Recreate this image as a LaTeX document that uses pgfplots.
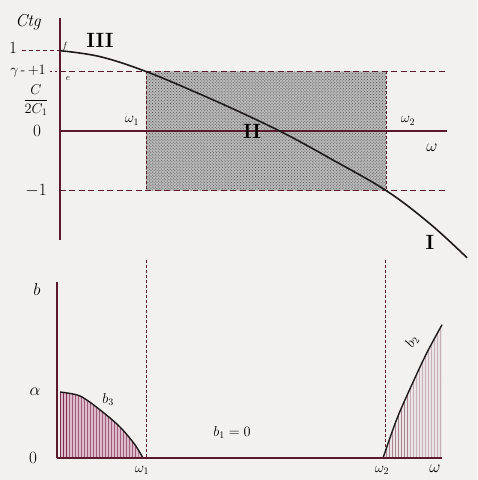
\documentclass[border=0pt]{standalone}
\usepackage{amsmath}
\usepackage{pgfplots}
\pgfplotsset{compat=1.18}
\usetikzlibrary{patterns}

\definecolor{paper}{HTML}{F2F1EF}
\definecolor{ink}{HTML}{5A1A2C}
\definecolor{curve}{HTML}{1E1A1C}
\definecolor{rose}{HTML}{9A3A66}

\begin{document}
\begin{tikzpicture}
% ---------- upper diagram: ctg gamma as a function of omega ----------
\begin{axis}[
  at={(0,0)}, anchor=south west,
  x=100bp, y=59.5bp,
  xmin=-0.6, xmax=4.17, ymin=-2.168, ymax=2.2017,
  hide axis, clip=false,
]
\addplot[fill=paper, draw=none] coordinates {(-0.6,-2.168) (4.17,-2.168) (4.17,2.2017) (-0.6,2.2017)} \closedcycle;
% shaded zone II between omega_1 and omega_2
\addplot[fill=gray!55, draw=none] coordinates {(0.86,1) (3.26,1) (3.26,-1) (0.86,-1)} \closedcycle;
\addplot[pattern=crosshatch dots, pattern color=gray!60!black, draw=none] coordinates {(0.86,1) (3.26,1) (3.26,-1) (0.86,-1)} \closedcycle;
% levels +1 and -1
\addplot[ink, line width=1.2pt, dash pattern=on 6pt off 3.5pt] coordinates {(0,1) (3.87,1)};
\addplot[ink, line width=1.2pt, dash pattern=on 6pt off 3.5pt] coordinates {(0,-1) (3.87,-1)};
\addplot[ink, line width=1.1pt, dash pattern=on 4pt off 3pt] coordinates {(-0.38,1.36) (0,1.36)};
\addplot[ink, line width=1.1pt, dash pattern=on 2pt off 3pt] coordinates {(-0.1,1) (0,1)};
% edges of the zone
\addplot[ink, line width=1pt, dash pattern=on 3pt off 2pt] coordinates {(0.86,1) (0.86,-1)};
\addplot[ink, line width=1pt, dash pattern=on 3pt off 2pt] coordinates {(3.26,1) (3.26,-1)};
% axes
\addplot[ink, line width=1.3pt] coordinates {(0,1.9) (0,-1.83)};
\addplot[ink, line width=1.2pt] coordinates {(0,0) (3.87,0)};
% the characteristic
\addplot[curve, line width=1.6pt, smooth, tension=0.6] coordinates {
  (0.00,1.35) (0.40,1.25) (0.86,1.00) (1.40,0.62) (1.90,0.24)
  (2.30,-0.09) (2.70,-0.46) (3.26,-1.00) (3.70,-1.56) (4.07,-2.13)};
% labels
\node[font=\itshape\LARGE] at (axis cs:-0.32,1.83) {Ctg};
\node[font=\LARGE] at (axis cs:-0.47,1.39) {$1$};
\node[font=\Large] at (axis cs:-0.32,1.0) {$\gamma$\,-\,$+1$};
\node[font=\Large] at (axis cs:-0.24,0.52) {$\dfrac{C}{2C_1}$};
\node[font=\LARGE] at (axis cs:-0.23,0) {$0$};
\node[font=\LARGE] at (axis cs:-0.24,-1) {$-1$};
\node[font=\small] at (axis cs:0.05,1.43) {$f$};
\node[font=\small] at (axis cs:0.08,0.88) {$e$};
\node[font=\bfseries\huge] at (axis cs:0.40,1.52) {III};
\node[font=\bfseries\huge] at (axis cs:1.92,0.0) {II};
\node[font=\bfseries\huge] at (axis cs:3.70,-1.88) {I};
\node[font=\Large] at (axis cs:0.72,0.17) {$\omega_1$};
\node[font=\Large] at (axis cs:3.48,0.17) {$\omega_2$};
\node[font=\LARGE] at (axis cs:3.72,-0.29) {$\omega$};
\end{axis}

% ---------- lower diagram: b as a function of omega ----------
\begin{axis}[
  at={(0,0)}, anchor=north west,
  x=100bp, y=66bp,
  xmin=-0.6, xmax=4.17, ymin=-0.333, ymax=3.0,
  hide axis, clip=false,
]
\addplot[fill=paper, draw=none] coordinates {(-0.6,-0.333) (4.17,-0.333) (4.17,3.0) (-0.6,3.0)} \closedcycle;
% continuation of the zone edges
\addplot[ink, line width=1pt, dash pattern=on 3pt off 2pt] coordinates {(0.86,3.0) (0.86,0)};
\addplot[ink, line width=1pt, dash pattern=on 3pt off 2pt] coordinates {(3.25,3.0) (3.25,0)};
% b_3 for omega < omega_1
\addplot[fill=rose!35, draw=none, smooth] coordinates {
  (0.00,1.00) (0.20,0.94) (0.40,0.73) (0.60,0.47) (0.75,0.20) (0.83,0.00)} \closedcycle;
\addplot[pattern=vertical lines, pattern color=rose!80!black, draw=none, smooth] coordinates {
  (0.00,1.00) (0.20,0.94) (0.40,0.73) (0.60,0.47) (0.75,0.20) (0.83,0.00)} \closedcycle;
\addplot[curve, line width=1.4pt, smooth] coordinates {
  (0.00,1.00) (0.20,0.94) (0.40,0.73) (0.60,0.47) (0.75,0.20) (0.83,0.00)};
% b_2 for omega > omega_2
\addplot[fill=ink!12, draw=none, smooth] coordinates {
  (3.23,0.00) (3.37,0.60) (3.53,1.15) (3.67,1.60) (3.82,2.02)} |- (axis cs:3.23,0);
\addplot[pattern=vertical lines, pattern color=ink!75, draw=none, smooth] coordinates {
  (3.23,0.00) (3.37,0.60) (3.53,1.15) (3.67,1.60) (3.82,2.02)} |- (axis cs:3.23,0);
\addplot[curve, line width=1.4pt, smooth] coordinates {
  (3.23,0.00) (3.37,0.60) (3.53,1.15) (3.67,1.60) (3.82,2.02)};
% axes
\addplot[ink, line width=1.3pt] coordinates {(-0.03,2.67) (-0.03,0)};
\addplot[ink, line width=2.6pt] coordinates {(-0.03,0) (3.82,0)};
% labels
\node[font=\LARGE] at (axis cs:-0.23,2.55) {$b$};
\node[font=\LARGE] at (axis cs:-0.25,1.0) {$\alpha$};
\node[font=\LARGE] at (axis cs:-0.27,0) {$0$};
\node[font=\Large] at (axis cs:0.48,0.88) {$b_3$};
\node[font=\Large] at (axis cs:1.72,0.38) {$b_1=0$};
\node[font=\Large, rotate=60] at (axis cs:3.52,1.76) {$b_2$};
\node[font=\Large] at (axis cs:0.82,-0.19) {$\omega_1$};
\node[font=\Large] at (axis cs:3.22,-0.19) {$\omega_2$};
\node[font=\LARGE] at (axis cs:3.75,-0.17) {$\omega$};
\end{axis}
\end{tikzpicture}
\end{document}
